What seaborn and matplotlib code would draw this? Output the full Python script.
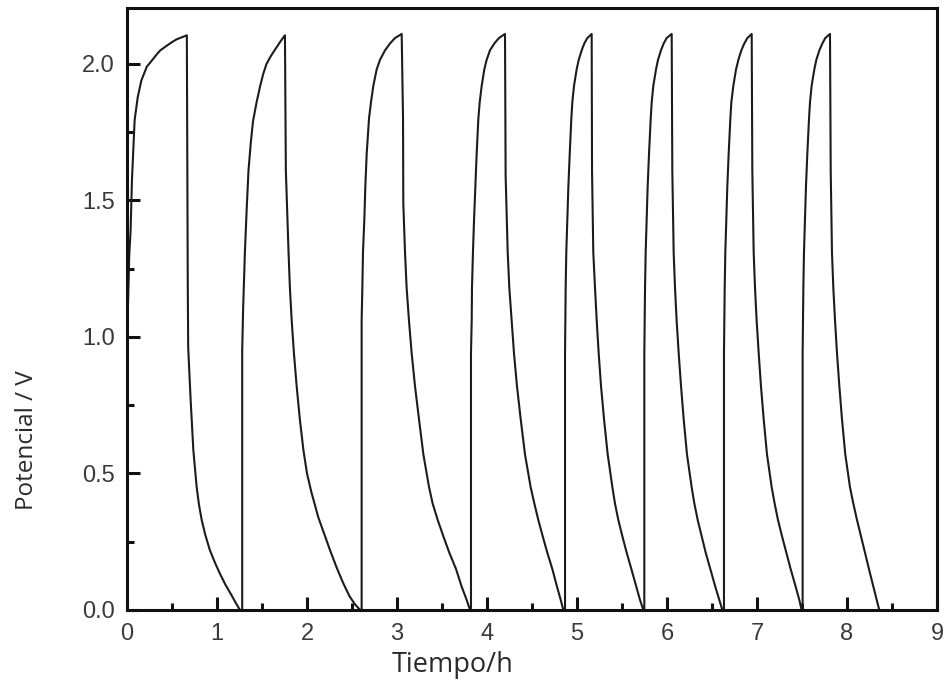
import matplotlib
matplotlib.use("Agg")
import matplotlib.pyplot as plt
import numpy as np
import pandas as pd
import seaborn as sns
from matplotlib.ticker import MultipleLocator, FormatStrFormatter

# ---- data (time in h, potential in V) ----
t_c1 = [0.0, 0.01, 0.025, 0.04, 0.055, 0.085, 0.12, 0.16, 0.22, 0.27, 0.33, 0.37, 0.455, 0.50,
        0.55, 0.61, 0.665,
        0.67, 0.675, 0.68, 0.707, 0.737, 0.774, 0.80, 0.83, 0.87, 0.92, 0.975, 1.03, 1.09,
        1.16, 1.21, 1.255]
v_c1 = [0.75, 1.1, 1.3, 1.39, 1.575, 1.795, 1.88, 1.94, 1.99, 2.01, 2.035, 2.05, 2.07, 2.08,
        2.09, 2.098, 2.105,
        1.6, 1.2, 0.96, 0.77, 0.586, 0.45, 0.385, 0.33, 0.275, 0.22, 0.175, 0.135, 0.095,
        0.055, 0.025, 0.0]

t_c2 = [1.28, 1.28, 1.29, 1.31, 1.33, 1.35, 1.375, 1.40, 1.44, 1.48, 1.515, 1.55, 1.60, 1.66,
        1.71, 1.755,
        1.765, 1.795, 1.81, 1.83, 1.855, 1.885, 1.92, 1.96, 2.00, 2.05, 2.125, 2.19, 2.255,
        2.33, 2.40, 2.47, 2.53, 2.59]
v_c2 = [0.0, 0.95, 1.1, 1.31, 1.47, 1.61, 1.71, 1.79, 1.86, 1.92, 1.965, 2.0, 2.03, 2.06,
        2.085, 2.105,
        1.61, 1.31, 1.18, 1.06, 0.94, 0.82, 0.70, 0.586, 0.50, 0.43, 0.34, 0.28, 0.22,
        0.155, 0.10, 0.052, 0.022, 0.0]

t_c3 = [2.607, 2.607, 2.615, 2.622, 2.637, 2.648, 2.663, 2.689, 2.711, 2.737, 2.774, 2.811,
        2.867, 2.922, 2.978, 3.052,
        3.067, 3.07, 3.089, 3.107, 3.133, 3.163, 3.20, 3.244, 3.293, 3.356, 3.396, 3.452,
        3.515, 3.581, 3.656, 3.719, 3.774, 3.811]
v_c3 = [0.0, 1.06, 1.18, 1.31, 1.43, 1.55, 1.67, 1.80, 1.86, 1.92, 1.98, 2.015,
        2.05, 2.075, 2.095, 2.11,
        1.80, 1.49, 1.31, 1.18, 1.06, 0.94, 0.82, 0.70, 0.57, 0.45, 0.39, 0.33,
        0.27, 0.21, 0.15, 0.085, 0.037, 0.0]

t_c4 = [3.822, 3.822, 3.83, 3.833, 3.844, 3.856, 3.87, 3.885, 3.904, 3.919, 3.941, 3.97,
        3.996, 4.033, 4.081, 4.133, 4.20,
        4.207, 4.23, 4.248, 4.274, 4.30, 4.333, 4.374, 4.422, 4.485, 4.526, 4.57, 4.619,
        4.67, 4.726, 4.778, 4.819, 4.848]
v_c4 = [0.0, 0.94, 1.06, 1.18, 1.31, 1.43, 1.55, 1.67, 1.80, 1.86, 1.92, 1.98,
        2.015, 2.05, 2.075, 2.095, 2.11,
        1.59, 1.31, 1.18, 1.06, 0.94, 0.82, 0.70, 0.57, 0.45, 0.39, 0.33, 0.27,
        0.21, 0.15, 0.085, 0.037, 0.0]

t_c5 = [4.867, 4.867, 4.870, 4.874, 4.881, 4.893, 4.904, 4.919, 4.937, 4.948, 4.967, 4.996,
        5.019, 5.052, 5.081, 5.115, 5.163,
        5.167, 5.181, 5.20, 5.219, 5.241, 5.267, 5.30, 5.341, 5.393, 5.422, 5.459, 5.504,
        5.552, 5.604, 5.659, 5.70, 5.737]
v_c5 = [0.0, 0.94, 1.06, 1.18, 1.31, 1.43, 1.55, 1.67, 1.80, 1.86, 1.92, 1.98,
        2.015, 2.05, 2.075, 2.095, 2.11,
        1.61, 1.31, 1.18, 1.06, 0.94, 0.82, 0.70, 0.57, 0.45, 0.39, 0.33, 0.27,
        0.21, 0.15, 0.085, 0.037, 0.0]

t_c6 = [5.748, 5.748, 5.752, 5.756, 5.763, 5.774, 5.785, 5.80, 5.819, 5.830, 5.848, 5.878,
        5.90, 5.933, 5.963, 5.996, 6.052,
        6.059, 6.074, 6.089, 6.107, 6.13, 6.156, 6.185, 6.222, 6.274, 6.304, 6.341, 6.385,
        6.43, 6.481, 6.537, 6.581, 6.615]
v_c6 = v_c5[:]

t_c7 = [6.633, 6.633, 6.637, 6.641, 6.648, 6.659, 6.670, 6.685, 6.704, 6.715, 6.737, 6.767,
        6.793, 6.826, 6.859, 6.893, 6.941,
        6.948, 6.963, 6.978, 6.996, 7.019, 7.044, 7.074, 7.111, 7.163, 7.196, 7.233, 7.278,
        7.326, 7.374, 7.43, 7.47, 7.496]
v_c7 = v_c5[:]

t_c8 = [7.507, 7.507, 7.511, 7.515, 7.522, 7.533, 7.544, 7.559, 7.578, 7.589, 7.607, 7.637,
        7.659, 7.693, 7.726, 7.759, 7.811,
        7.819, 7.833, 7.848, 7.867, 7.889, 7.915, 7.944, 7.981, 8.033, 8.07, 8.111, 8.156,
        8.20, 8.244, 8.293, 8.33, 8.359]
v_c8 = v_c5[:]

x_ticks = [0, 1, 2, 3, 4, 5, 6, 7, 8, 9]
y_ticks = [0.0, 0.5, 1.0, 1.5, 2.0]

tiempo = t_c1 + t_c2 + t_c3 + t_c4 + t_c5 + t_c6 + t_c7 + t_c8
potencial = v_c1 + v_c2 + v_c3 + v_c4 + v_c5 + v_c6 + v_c7 + v_c8
df = pd.DataFrame({"Tiempo": tiempo, "Potencial": potencial})

sns.set_theme(style="white")
plt.rcParams['font.family'] = ['Liberation Sans', 'DejaVu Sans']

fig = plt.figure(figsize=(9.46, 6.9), dpi=100)
ax = fig.add_axes([127 / 946, 80 / 690, 810 / 946, 602 / 690])

sns.lineplot(data=df, x="Tiempo", y="Potencial", sort=False, estimator=None,
             color="#1c1c1c", linewidth=1.5, ax=ax)

ax.set_xlim(0, 9)
ax.set_ylim(0, 2.205)
ax.set_xticks(x_ticks)
ax.set_yticks(y_ticks)
ax.xaxis.set_minor_locator(MultipleLocator(0.5))
ax.yaxis.set_minor_locator(MultipleLocator(0.25))
ax.yaxis.set_major_formatter(FormatStrFormatter('%.1f'))

for s in ax.spines.values():
    s.set_linewidth(2.2)
    s.set_color("#111111")

ax.tick_params(which='both', direction='in', bottom=True, left=True, top=False, right=False,
               width=2.2, color="#111111")
ax.tick_params(which='major', length=9.5, labelsize=17, labelcolor="#3a3a3a", pad=9)
ax.tick_params(which='minor', length=5)

ax.set_xlabel("Tiempo/h", fontfamily=["Open Sans", "DejaVu Sans"], fontsize=19.5,
              color="#2a2a2a")
ax.set_ylabel("Potencial / V", fontfamily=["Open Sans", "DejaVu Sans"], fontsize=17.5,
              color="#2a2a2a")
ax.xaxis.set_label_coords(0.402, -0.068)
ax.yaxis.set_label_coords(-0.109, 0.282)
ax.grid(False)

fig.savefig("out.png", dpi=100)
